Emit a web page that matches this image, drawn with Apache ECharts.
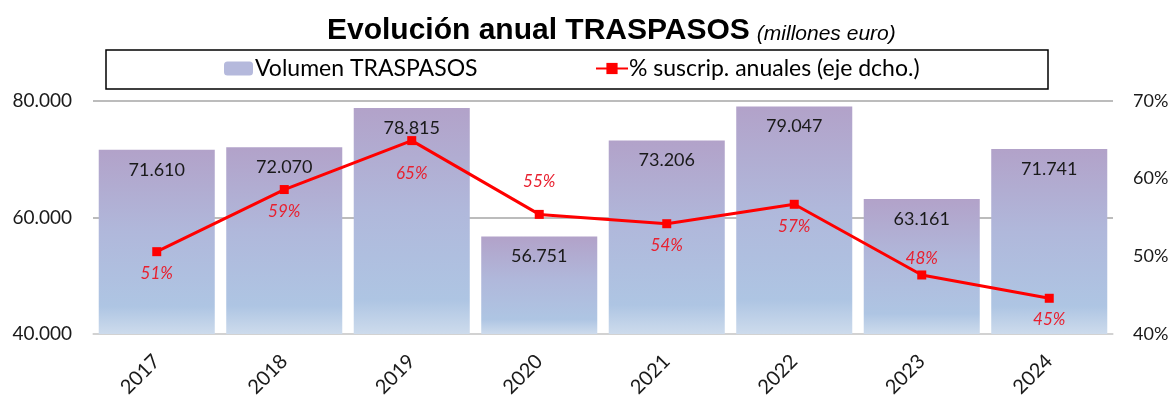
<!DOCTYPE html>
<html>
<head>
<meta charset="utf-8">
<script src="https://cdn.jsdelivr.net/npm/echarts@6/dist/echarts.min.js"></script>
<style>
  html, body { margin: 0; padding: 0; background: #fff; }
  #chart { width: 1175px; height: 400px; }
</style>
</head>
<body>
<div id="chart"></div>
<script>
  // datos
  const years = ['2017', '2018', '2019', '2020', '2021', '2022', '2023', '2024']
  const volumen = [71610, 72070, 78815, 56751, 73206, 79047, 63161, 71741]
  const suscrip = [50.6, 58.6, 64.9, 55.4, 54.2, 56.7, 47.6, 44.6]
  // donde va la etiqueta de cada punto de la linea
  const lblPos = ['bottom', 'bottom', 'bottom', 'top', 'bottom', 'bottom', 'top', 'bottom']
  const lblDist = [9, 9, 20, 20, 9, 9, 3, 8]

  const font = 'Lato'
  const miles = v => String(Math.round(v)).replace(/\B(?=(\d{3})+(?!\d))/g, '.')

  const chart = echarts.init(document.getElementById('chart'))

  const option = {
    animation: false,
    title: {
      text: '{a|Evolución anual TRASPASOS} {b|(millones euro)}',
      left: 327,
      top: 16,
      padding: 0,
      textStyle: {
        fontWeight: 'normal',
        rich: {
          a: { fontFamily: 'Liberation Sans', fontWeight: 'bold', fontSize: 30, color: '#000', verticalAlign: 'bottom' },
          b: { fontFamily: 'Liberation Sans', fontStyle: 'italic', fontWeight: 'normal', fontSize: 21, color: '#000', verticalAlign: 'bottom', padding: [0, 0, 1, 2] }
        }
      }
    },
    graphic: [
      {
        type: 'rect',
        shape: { x: 106, y: 50, width: 942, height: 39 },
        style: { fill: 'none', stroke: '#000', lineWidth: 1.5 },
        silent: true
      }
    ],
    legend: [
      {
        data: [{ name: 'Volumen TRASPASOS', itemStyle: { color: '#b5b9dc' } }],
        left: 224,
        top: 57,
        padding: 0,
        itemWidth: 29,
        itemHeight: 14,
        itemGap: 0,
        textStyle: { fontFamily: font, fontSize: 23, color: '#000', padding: [0, 0, 0, -3] }
      },
      {
        data: ['% suscrip. anuales (eje dcho.)'],
        left: 595,
        top: 57,
        padding: 0,
        itemWidth: 32,
        itemHeight: 14,
        textStyle: { fontFamily: font, fontSize: 23, color: '#000', padding: [0, 0, 0, -4] }
      }
    ],
    grid: {
      left: 93,
      right: 62,
      top: 101,
      bottom: 65
    },
    xAxis: {
      type: 'category',
      data: years,
      axisTick: { show: false },
      axisLine: { lineStyle: { color: '#d9d9d9', width: 1.5 } },
      axisLabel: {
        rotate: 45,
        margin: 24,
        fontFamily: font,
        fontSize: 20,
        color: '#1a1a1a'
      }
    },
    yAxis: [
      {
        type: 'value',
        min: 40000,
        max: 80000,
        interval: 20000,
        axisLine: { show: false },
        axisTick: { show: false },
        splitLine: { lineStyle: { color: '#a6a6a6', width: 1.5 } },
        axisLabel: {
          margin: 21,
          fontFamily: font,
          fontSize: 19,
          color: '#1a1a1a',
          formatter: v => miles(v)
        }
      },
      {
        type: 'value',
        min: 40,
        max: 70,
        interval: 10,
        axisLine: { show: false },
        axisTick: { show: false },
        splitLine: { show: false },
        axisLabel: {
          margin: 20,
          fontFamily: font,
          fontSize: 18,
          color: '#1a1a1a',
          formatter: '{value}%'
        }
      }
    ],
    series: [
      {
        name: 'Volumen TRASPASOS',
        type: 'bar',
        data: volumen,
        barCategoryGap: '9%',
        itemStyle: {
          color: new echarts.graphic.LinearGradient(0, 0, 0, 1, [
            { offset: 0, color: '#b2a2c9' },
            { offset: 0.45, color: '#b0b8db' },
            { offset: 0.85, color: '#aec5e3' },
            { offset: 1, color: '#cddbec' }
          ])
        },
        label: {
          show: true,
          position: 'insideTop',
          distance: 11,
          fontFamily: font,
          fontSize: 18,
          color: '#1a1a1a',
          formatter: p => miles(p.value)
        }
      },
      {
        name: '% suscrip. anuales (eje dcho.)',
        type: 'line',
        yAxisIndex: 1,
        data: suscrip.map((v, i) => ({
          value: v,
          label: { position: lblPos[i], distance: lblDist[i] }
        })),
        symbol: 'rect',
        symbolSize: 9,
        lineStyle: { color: '#ff0000', width: 3 },
        itemStyle: { color: '#ff0000' },
        label: {
          show: true,
          fontFamily: font,
          fontStyle: 'italic',
          fontSize: 17,
          color: '#e8202f',
          formatter: p => Math.round(p.value) + '%'
        }
      }
    ]
  }

  chart.setOption(option)
</script>
</body>
</html>
